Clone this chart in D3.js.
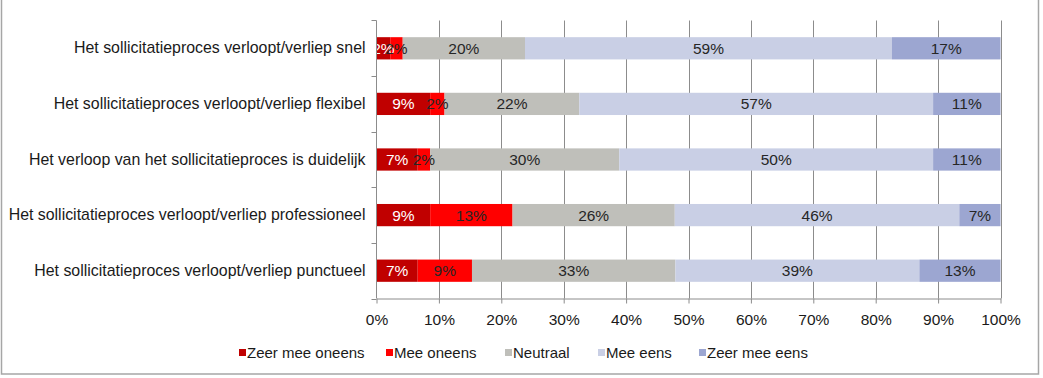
<!DOCTYPE html>
<html><head><meta charset="utf-8">
<script src="https://cdn.jsdelivr.net/npm/d3@7"></script>
<style>
html,body{margin:0;padding:0;background:#fff;}
svg{display:block;font-family:"Liberation Sans",Arial,sans-serif;}
</style></head>
<body><svg id="chart" width="1043" height="378"></svg>
<script>
const categories = [
  "Het sollicitatieproces verloopt/verliep snel",
  "Het sollicitatieproces verloopt/verliep flexibel",
  "Het verloop van het sollicitatieproces is duidelijk",
  "Het sollicitatieproces verloopt/verliep professioneel",
  "Het sollicitatieproces verloopt/verliep punctueel"
];
const seriesNames = ["Zeer mee oneens","Mee oneens","Neutraal","Mee eens","Zeer mee eens"];
const seriesColors = ["#C00000","#FF0000","#BFBFBA","#C9CFE5","#9CA6D1"];
const labelColors = ["#ffffff","#262626","#262626","#262626","#262626"];
// values in percent, per series, in category order
const zeerMeeOneens = [2.2, 8.6, 6.6, 8.6, 6.6];
const meeOneens     = [2.0, 2.3, 2.0, 13.2, 8.7];
const neutraal      = [19.6, 21.6, 30.3, 26.0, 32.6];
const meeEens       = [58.8, 56.7, 50.3, 45.6, 39.1];
const zeerMeeEens   = [17.4, 10.8, 10.8, 6.6, 13.0];
const xTicks = [0,10,20,30,40,50,60,70,80,90,100];

const seriesValues = [zeerMeeOneens, meeOneens, neutraal, meeEens, zeerMeeEens];
const rows = categories.map((c,i)=>{
  const o = {cat:c};
  seriesNames.forEach((s,j)=>o[s]=seriesValues[j][i]);
  return o;
});
const stacked = d3.stack().keys(seriesNames)(rows);

const svg = d3.select("#chart");
const FONT = 15;
// frame
svg.append("rect").attr("x",1.5).attr("y",-6).attr("width",1037).attr("height",380)
  .attr("fill","#fff").attr("stroke","#a6a6a6").attr("stroke-width",1.5);

const x = d3.scaleLinear().domain([0,100]).range([376.5,1000.5]);
const y = d3.scaleBand().domain(categories).range([20.5,298.5]).paddingInner(0.6).paddingOuter(0.3);

// gridlines
svg.append("g").selectAll("line").data(xTicks.slice(1)).join("line")
  .attr("x1",d=>Math.round(x(d))+0.5).attr("x2",d=>Math.round(x(d))+0.5)
  .attr("y1",20.5).attr("y2",298.5).attr("stroke","#8c8c8c").attr("stroke-width",1);

// bars
const g = svg.append("g");
stacked.forEach((s,j)=>{
  g.append("g").attr("fill",seriesColors[j]).selectAll("rect").data(s).join("rect")
    .attr("x",d=>x(d[0])).attr("width",d=>x(d[1])-x(d[0]))
    .attr("y",d=>y(d.data.cat)).attr("height",y.bandwidth());
});
// labels
stacked.forEach((s,j)=>{
  g.append("g").selectAll("text").data(s).join("text")
    .attr("x",d=>(x(d[0])+x(d[1]))/2).attr("y",d=>y(d.data.cat)+y.bandwidth()/2)
    .attr("dy","0.36em").attr("text-anchor","middle").attr("font-size",15.5)
    .attr("fill",labelColors[j])
    .text(d=>Math.round(d[1]-d[0])+"%");
});

// y axis
const yAxis = d3.axisLeft(y).tickSize(0).tickPadding(11);
const ya = svg.append("g").attr("transform","translate(376.5,0)").call(yAxis);
ya.select(".domain").attr("stroke","#8c8c8c").attr("d","M0,20.5V298.5");
ya.selectAll("text").attr("font-size",15.9).attr("fill","#1a1a1a").attr("font-family","Liberation Sans, Arial, sans-serif");
// category boundary ticks
const bounds = categories.map(c=>y(c)-y.step()*y.paddingInner()/2).concat([298.5]);
ya.selectAll("line.b").data(bounds).join("line").attr("class","b")
  .attr("x1",-5).attr("x2",0).attr("y1",d=>Math.round(d)+0.5).attr("y2",d=>Math.round(d)+0.5)
  .attr("stroke","#8c8c8c");

// x axis
const xAxis = d3.axisBottom(x).tickValues(xTicks).tickFormat(d=>d+"%").tickSize(5).tickSizeOuter(0).tickPadding(10);
const xa = svg.append("g").attr("transform","translate(0,298.5)").call(xAxis);
xa.select(".domain").attr("stroke","#8c8c8c");
xa.selectAll(".tick line").attr("stroke","#8c8c8c");
xa.selectAll("text").attr("font-size",15.5).attr("fill","#1a1a1a").attr("font-family","Liberation Sans, Arial, sans-serif");

// legend
const legendX = [239, 386, 505, 598, 699];
const lg = svg.append("g");
seriesNames.forEach((s,j)=>{
  lg.append("rect").attr("x",legendX[j]).attr("y",349).attr("width",7).attr("height",7).attr("fill",seriesColors[j]);
  lg.append("text").attr("x",legendX[j]+8).attr("y",352.5).attr("dy","0.36em")
    .attr("font-size",FONT).attr("fill","#1a1a1a").text(s);
});
</script></body></html>
